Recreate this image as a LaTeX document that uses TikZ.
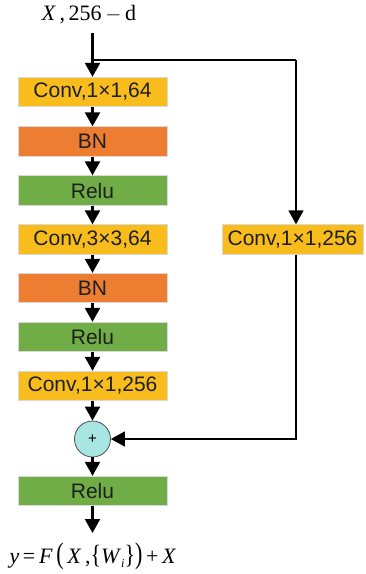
\documentclass[tikz,border=0pt]{standalone}
\usepackage{fontspec}
\setmainfont{Liberation Serif}
\newfontfamily\boxfont{Liberation Sans}
\usetikzlibrary{arrows.meta}
\definecolor{convc}{HTML}{F8BC1C}
\definecolor{bnc}{HTML}{ED7D31}
\definecolor{reluc}{HTML}{70AD47}
\definecolor{addc}{HTML}{A8E6E4}
\definecolor{edgec}{HTML}{D9D9D9}
\begin{document}
\begin{tikzpicture}[x=1pt,y=-1pt,
  blk/.style={draw=edgec, line width=0.8pt, minimum width=149pt, minimum height=29.5pt,
     inner sep=0pt, font=\boxfont\fontsize{21}{24}\selectfont, text=black!88},
  convbox/.style={blk, fill=convc},
  bnbox/.style={blk, fill=bnc},
  relubox/.style={blk, fill=reluc},
  conn/.style={line width=2.2pt, -{Triangle[length=14pt,width=15pt]}},
  sconn/.style={line width=1.6pt, -{Triangle[length=14pt,width=15pt]}},
  sline/.style={line width=1.6pt}
]
\useasboundingbox (0,0) rectangle (365,574);
\node[font=\fontsize{22}{24}\selectfont] (in) at (89,15) {\textit{X}\,,\,256\,$-$\,d};
\coordinate (top) at (92.5,33);
\coordinate (split) at (92.5,60);
\node[convbox] (c1) at (92.5,92) {Conv,1×1,64};
\node[bnbox] (b1) at (92.5,141.5) {BN};
\node[relubox] (r1) at (92.5,190.5) {Relu};
\node[convbox] (c2) at (92.5,239.5) {Conv,3×3,64};
\node[bnbox] (b2) at (92.5,288) {BN};
\node[relubox] (r2) at (92.5,337) {Relu};
\node[convbox] (c3) at (92.5,386) {Conv,1×1,256};
\node[circle, draw=black!70, line width=0.8pt, fill=addc, minimum size=36pt, inner sep=0pt,
      font=\boxfont\fontsize{15}{16}\selectfont] (add) at (92.5,439) {+};
\node[relubox] (r3) at (92.5,491) {Relu};
\coordinate (out) at (92.5,533);
\node[convbox, minimum width=141pt] (sc) at (292.5,239.5) {Conv,1×1,256};
\coordinate (rt) at (296,60);
\coordinate (rb) at (296,439);
\node[font=\fontsize{22}{24}\selectfont, anchor=west] (res) at (6,556)
  {\textit{y}\,=\,\textit{F}\,\scalebox{1}[1.35]{(}\,\textit{X}\,,\scalebox{1}[1.2]{\{}\textit{W}\raisebox{-4pt}{\fontsize{12}{12}\selectfont\textit{i}}\scalebox{1}[1.2]{\}}\scalebox{1}[1.35]{)}\,+\,\textit{X}};
\draw[conn] (top) -- (c1.north);
\draw[sline] (split) -- (rt);
\draw[sconn] (rt) -- (sc.north -| rt);
\draw[conn] (c1) -- (b1);
\draw[conn] (b1) -- (r1);
\draw[conn] (r1) -- (c2);
\draw[conn] (c2) -- (b2);
\draw[conn] (b2) -- (r2);
\draw[conn] (r2) -- (c3);
\draw[conn] (c3) -- (add);
\draw[conn] (add) -- (r3);
\draw[conn] (r3) -- (out);
\draw[sconn] (sc.south -| rt) -- (rb) -- (add.east);
\end{tikzpicture}
\end{document}
